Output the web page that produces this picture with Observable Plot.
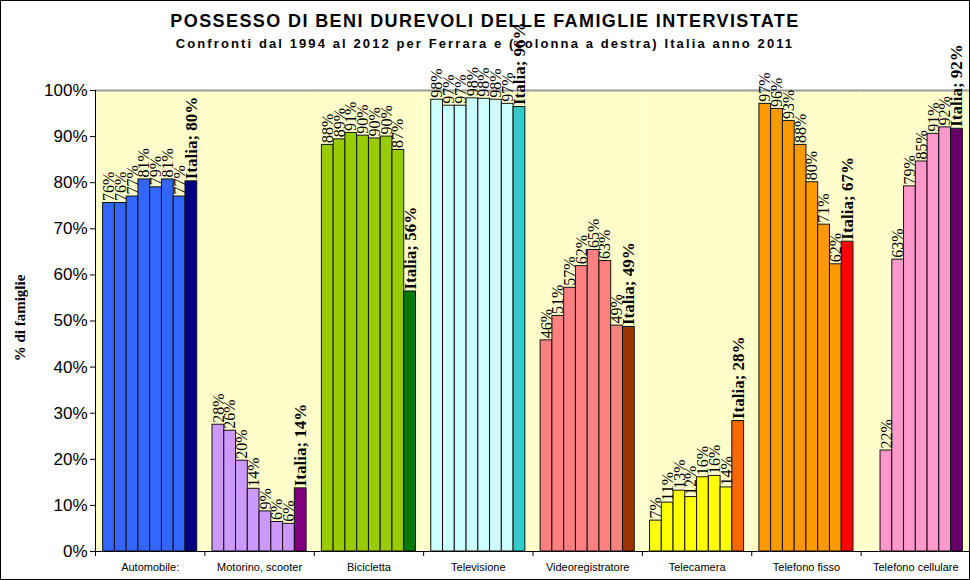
<!DOCTYPE html>
<html>
<head>
<meta charset="utf-8">
<script src="https://cdn.jsdelivr.net/npm/d3@7"></script>
<script src="https://cdn.jsdelivr.net/npm/@observablehq/plot@0.6"></script>
<style>
  html, body { margin: 0; padding: 0; background: #fff; }
  #wrap { position: relative; width: 970px; height: 580px; overflow: hidden; }
  #border { position: absolute; left: 0; top: 0; width: 968px; height: 578px; border: 1px solid #000; pointer-events: none; z-index: 3; }
  #title { position: absolute; left: 0; width: 970px; top: 11px; text-align: center; font: bold 18px "Liberation Sans", Arial, sans-serif; letter-spacing: 1.4px; z-index: 2; }
  #subtitle { position: absolute; left: 0; width: 970px; top: 36px; text-align: center; font: bold 13px "Liberation Sans", Arial, sans-serif; letter-spacing: 2.1px; z-index: 2; }
  #ylabel { position: absolute; left: 20px; top: 318px; transform: translate(-50%, -50%) rotate(-90deg); font: bold 15px "Liberation Serif", "Times New Roman", serif; white-space: nowrap; z-index: 2; }
  #chart { position: absolute; left: 0; top: 0; }
  #chart svg { overflow: visible; }
</style>
</head>
<body>
<div id="wrap">
  <div id="chart"></div>
  <div id="title">POSSESSO DI BENI DUREVOLI DELLE FAMIGLIE INTERVISTATE</div>
  <div id="subtitle">Confronti dal 1994 al 2012 per Ferrara e (colonna a destra) Italia anno 2011</div>
  <div id="ylabel">% di famiglie</div>
  <div id="border"></div>
</div>
<script>
// ---- data (percent of families) ----
const categories = ["Automobile:", "Motorino, scooter", "Bicicletta", "Televisione", "Videoregistratore", "Telecamera", "Telefono fisso", "Telefono cellulare"];
const ferraraWaves = ["F1", "F2", "F3", "F4", "F5", "F6", "F7"]; // 7 Ferrara surveys 1994-2012
const automobile   = [75.6, 75.6, 77.0, 80.7, 79.0, 80.7, 77.0];
const motorino     = [27.5, 26.2, 19.7, 13.6, 8.7, 6.4, 6.0];
const bicicletta   = [88.2, 89.4, 90.8, 90.2, 89.6, 90.0, 87.1];
const televisione  = [98.0, 96.7, 96.7, 98.3, 98.2, 98.0, 97.1];
const videoreg     = [45.8, 51.1, 57.2, 61.9, 65.4, 63.0, 49.0];
const telecamera   = [6.7, 10.6, 13.2, 11.8, 16.1, 16.4, 13.9];
const telFisso     = [97.1, 96.0, 93.4, 88.2, 80.1, 70.9, 62.3];
const telCellulare = [null, 21.9, 63.3, 79.2, 84.6, 90.6, 92.0];
const italia2011   = [80.3, 13.7, 56.4, 96.4, 48.7, 28.3, 67.2, 91.7];
const yTicks = [0, 10, 20, 30, 40, 50, 60, 70, 80, 90, 100];

// ---- styles ----
const ferraraColors = ["#3366FF", "#CC99FF", "#99CC00", "#CCFFFF", "#FF8080", "#FFFF00", "#FF9900", "#FF99CC"];
const italiaColors  = ["#000080", "#800080", "#007A00", "#33CCCC", "#993300", "#FF6600", "#FF0000", "#660066"];

const series = [automobile, motorino, bicicletta, televisione, videoreg, telecamera, telFisso, telCellulare];
const rows = [];
categories.forEach((cat, ci) => {
  series[ci].forEach((v, i) => {
    if (v != null) rows.push({cat, slot: i, wave: ferraraWaves[i], value: v / 100, label: Math.round(v) + "%", fill: ferraraColors[ci], italia: false});
  });
  rows.push({cat, slot: 7, wave: "Italia", value: italia2011[ci] / 100, label: "Italia; " + Math.round(italia2011[ci]) + "%", fill: italiaColors[ci], italia: true});
});

const W = 970, H = 580, mL = 95, mR = 0;
const bw = (W - mL - mR) / categories.length;
const padOuter = 0.65;
const step = bw / (8 + 2 * padOuter);
const edgeOffset = step / 2 + padOuter * step;

const chart = Plot.plot({
  width: W, height: H,
  marginLeft: mL, marginRight: mR, marginTop: 90, marginBottom: 29,
  style: {background: "transparent", overflow: "visible"},
  fx: {domain: categories, padding: 0, round: false, label: null},
  x: {domain: d3.range(8), paddingInner: 0, paddingOuter: padOuter, round: false, axis: null},
  y: {domain: [0, 1], label: null},
  color: {type: "identity"},
  marks: [
    Plot.frame({fill: "#FFFFCC", stroke: null}),
    Plot.ruleY([1], {stroke: "#999999", strokeWidth: 2}),
    Plot.barY(rows, {fx: "cat", x: "slot", y: "value", fill: "fill", stroke: "#111", strokeWidth: 1}),
    Plot.text(rows.filter(d => !d.italia), {fx: "cat", x: "slot", y: "value", text: "label", rotate: -90, textAnchor: "start", lineAnchor: "middle", dy: -2, fontFamily: "Liberation Serif, Times New Roman, serif", fontSize: 16, fill: "#000"}),
    Plot.text(rows.filter(d => d.italia), {fx: "cat", x: "slot", y: "value", text: "label", rotate: -90, textAnchor: "start", lineAnchor: "middle", dy: -2, fontFamily: "Liberation Serif, Times New Roman, serif", fontSize: 17, fontWeight: "bold", fill: "#000"}),
    Plot.ruleY([0], {stroke: "#000", strokeWidth: 1}),
    Plot.ruleX([categories[0]], {fx: d => d, x: () => 0, dx: -edgeOffset, y1: 0, y2: 1, stroke: "#000"}),
    Plot.axisY({ticks: yTicks.map(t => t / 100), tickFormat: d => Math.round(d * 100) + "%", tickSize: 5, tickPadding: 3, fontSize: 17, fontFamily: "Liberation Sans, Arial, sans-serif", label: null, stroke: "#000"}),
    Plot.axisFx({anchor: "bottom", tickSize: 0, tickPadding: 12, fontSize: 11, fontFamily: "Liberation Sans, Arial, sans-serif", label: null}),
    Plot.axisFx({anchor: "bottom", tickSize: 5, tickFormat: () => "", dx: -bw / 2, label: null})
  ]
});
document.getElementById("chart").append(chart);
</script>
</body>
</html>
